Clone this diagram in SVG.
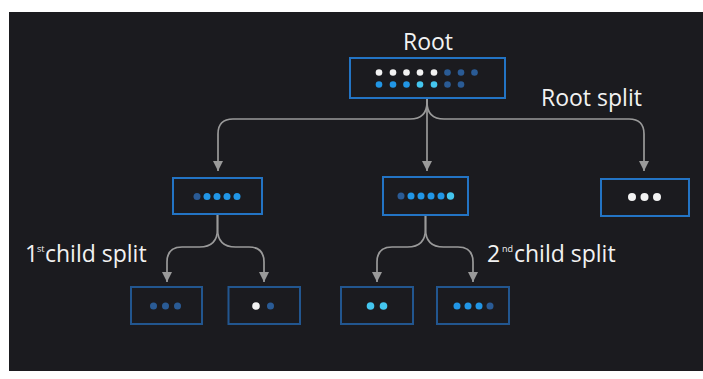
<svg xmlns="http://www.w3.org/2000/svg" width="703" height="379" viewBox="0 0 703 379">
<defs>
<style>
.bg{fill:#1b1b1f}
.box{fill:#1b1b1f;stroke:#2374c4;stroke-width:2}
.box2{fill:#1b1b1f;stroke:#22568f;stroke-width:2}
.w{fill:#f2f2f2}
.d{fill:#2a5b95}
.b{fill:#2196e6}
.c{fill:#44c6ef}
.con{fill:none;stroke:#9a9a9a;stroke-width:1.7;marker-end:url(#ah)}
text{font-family:"Open Sans","Noto Sans","Liberation Sans",sans-serif;fill:#f2f2f2}
.lbl{font-size:23px}
.sup{font-size:9px}
</style>
<marker id="ah" viewBox="0 0 10 10" refX="10" refY="5" markerUnits="userSpaceOnUse" markerWidth="10" markerHeight="10" orient="auto">
<path d="M0,0 L10,5 L0,10 z" fill="#9a9a9a"/>
</marker>
</defs>
<rect x="0" y="0" width="703" height="379" fill="#ffffff"/>
<rect class="bg" x="9" y="12" width="694" height="359"/>

<g id="connectors">
<path class="con" d="M427,98 V102 Q427,119 410,119 H233 Q218,119 218,134 V171"/>
<path class="con" d="M427,98 V171"/>
<path class="con" d="M427,98 V102 Q427,119 444,119 H629 Q644,119 644,134 V171"/>
<path class="con" d="M217.5,214 V229 Q217.5,247 199.5,247 H182 Q167,247 167,262 V282"/>
<path class="con" d="M217.5,214 V229 Q217.5,247 235.5,247 H249 Q264,247 264,262 V282"/>
<path class="con" d="M425.5,215 V229 Q425.5,247 407.5,247 H392 Q377,247 377,262 V282"/>
<path class="con" d="M425.5,215 V229 Q425.5,247 443.5,247 H458 Q473,247 473,262 V282"/>
</g>

<g id="root">
<text class="lbl" x="428" y="50" text-anchor="middle">Root</text>
<rect class="box" x="350" y="58" width="155" height="40"/>
<circle class="w" cx="379" cy="72.5" r="3.3"/>
<circle class="w" cx="393" cy="72.5" r="3.3"/>
<circle class="w" cx="406.5" cy="72.5" r="3.3"/>
<circle class="w" cx="420" cy="72.5" r="3.3"/>
<circle class="w" cx="434" cy="72.5" r="3.3"/>
<circle class="d" cx="447.5" cy="72.5" r="3.3"/>
<circle class="d" cx="461" cy="72.5" r="3.3"/>
<circle class="d" cx="474.5" cy="72.5" r="3.3"/>
<circle class="b" cx="379" cy="84.5" r="3.3"/>
<circle class="b" cx="393" cy="84.5" r="3.3"/>
<circle class="b" cx="406.5" cy="84.5" r="3.3"/>
<circle class="c" cx="420" cy="84.5" r="3.3"/>
<circle class="c" cx="434" cy="84.5" r="3.3"/>
<circle class="d" cx="447.5" cy="84.5" r="3.3"/>
<circle class="d" cx="461" cy="84.5" r="3.3"/>
</g>

<g id="root-split-label">
<text class="lbl" x="541" y="106">Root split</text>
</g>

<g id="child1">
<rect class="box" x="173" y="178" width="89" height="36"/>
<circle class="d" cx="197" cy="196.5" r="3.5"/>
<circle class="b" cx="207" cy="196.5" r="3.5"/>
<circle class="b" cx="217" cy="196.5" r="3.5"/>
<circle class="b" cx="227" cy="196.5" r="3.5"/>
<circle class="b" cx="237" cy="196.5" r="3.5"/>
</g>

<g id="child2">
<rect class="box" x="383" y="177" width="85" height="38"/>
<circle class="d" cx="401" cy="196" r="3.5"/>
<circle class="b" cx="411" cy="196" r="3.5"/>
<circle class="b" cx="421" cy="196" r="3.5"/>
<circle class="b" cx="431" cy="196" r="3.5"/>
<circle class="b" cx="441" cy="196" r="3.5"/>
<circle class="c" cx="450.5" cy="196" r="3.7"/>
</g>

<g id="child3">
<rect class="box" x="601" y="179" width="88" height="37"/>
<circle class="w" cx="632" cy="197" r="4"/>
<circle class="w" cx="644.5" cy="197" r="4"/>
<circle class="w" cx="657" cy="197" r="4"/>
</g>

<g id="split-label-1">
<text class="lbl" x="25" y="262">1<tspan class="sup" x="37" dy="-10">st</tspan><tspan dy="10" x="45">child split</tspan></text>
</g>

<g id="split-label-2">
<text class="lbl" x="487" y="262">2<tspan class="sup" x="502" dy="-10">nd</tspan><tspan dy="10" x="514">child split</tspan></text>
</g>

<g id="leaf1">
<rect class="box2" x="131" y="287" width="71" height="37"/>
<circle class="d" cx="153.5" cy="306" r="3.5"/>
<circle class="d" cx="165.5" cy="306" r="3.5"/>
<circle class="d" cx="177.5" cy="306" r="3.5"/>
</g>

<g id="leaf2">
<rect class="box2" x="228.5" y="287" width="71.5" height="37"/>
<circle class="w" cx="256" cy="306" r="3.8"/>
<circle class="d" cx="270.5" cy="306" r="3.5"/>
</g>

<g id="leaf3">
<rect class="box2" x="341" y="287" width="72" height="37"/>
<circle class="c" cx="370.5" cy="306" r="3.8"/>
<circle class="c" cx="383.5" cy="306" r="3.8"/>
</g>

<g id="leaf4">
<rect class="box2" x="437" y="287" width="72" height="37"/>
<circle class="b" cx="457" cy="306" r="3.5"/>
<circle class="b" cx="468" cy="306" r="3.5"/>
<circle class="b" cx="479" cy="306" r="3.5"/>
<circle class="d" cx="490" cy="306" r="3.5"/>
</g>
</svg>
